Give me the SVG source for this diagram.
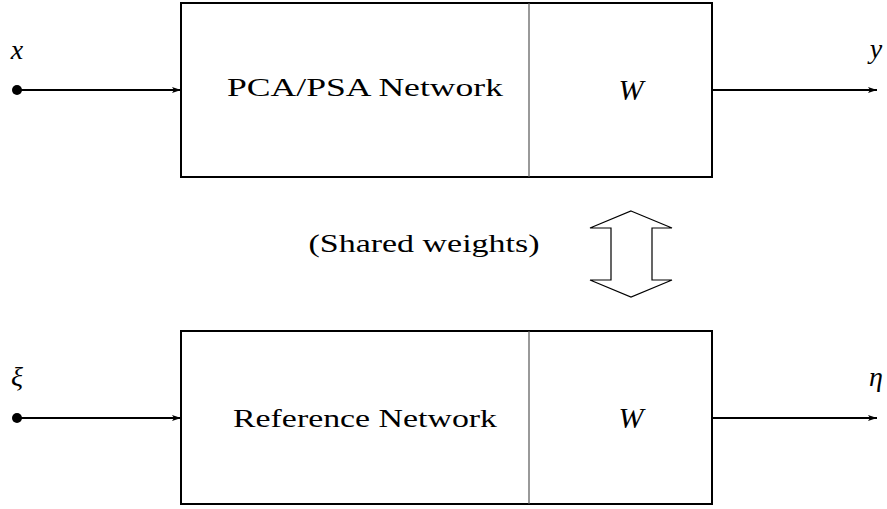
<svg xmlns="http://www.w3.org/2000/svg" width="887" height="509" viewBox="0 0 887 509">
<defs>
<marker id="ah" markerWidth="10" markerHeight="8" refX="9" refY="4" orient="auto" markerUnits="userSpaceOnUse">
<path d="M0,1 L9,4 L0,7 L2,4 Z" fill="#000"/>
</marker>
</defs>
<style>
.box{fill:#fff;stroke:#000;stroke-width:2}
.div{stroke:#555;stroke-width:1.2}
.lbl{font-family:"Liberation Serif",serif;font-size:26px;fill:#000}
.math{font-family:"Liberation Serif",serif;font-style:italic;font-size:28px;fill:#000}
.wire{stroke:#000;stroke-width:2;fill:none}
.dbl{fill:#fff;stroke:#000;stroke-width:1.2}
</style>
<rect width="887" height="509" fill="#fff"/>
<g id="top-node">
<rect class="box" x="181" y="3" width="531" height="174"/>
<line class="div" x1="529" y1="3" x2="529" y2="177"/>
<text class="lbl" x="365" y="96" text-anchor="middle" textLength="276" lengthAdjust="spacingAndGlyphs">PCA/PSA Network</text>
<text class="math" x="631" y="100" text-anchor="middle" style="font-size:30px">W</text>
</g>
<g id="bottom-node">
<rect class="box" x="181" y="331" width="531" height="173"/>
<line class="div" x1="529" y1="331" x2="529" y2="504"/>
<text class="lbl" x="365" y="427" text-anchor="middle" textLength="264" lengthAdjust="spacingAndGlyphs">Reference Network</text>
<text class="math" x="631" y="428" text-anchor="middle" style="font-size:30px">W</text>
</g>
<g id="shared">
<text class="lbl" x="424" y="252" text-anchor="middle" textLength="231" lengthAdjust="spacingAndGlyphs">(Shared weights)</text>
<path class="dbl" d="M631,211 L672,228 L652,228 L652,280 L672,280 L631,297 L590,280 L611,280 L611,228 L590,228 Z"/>
</g>
<g id="labels">
<text class="math" x="17" y="59" text-anchor="middle">x</text>
<text class="math" x="876" y="58" text-anchor="middle">y</text>
<text class="math" x="17" y="386" text-anchor="middle">ξ</text>
<text class="math" x="876" y="386" text-anchor="middle">η</text>
</g>
<g id="connectors">
<circle cx="17" cy="90" r="5" fill="#000"/>
<line class="wire" x1="17" y1="90" x2="181" y2="90" marker-end="url(#ah)"/>
<line class="wire" x1="712" y1="90" x2="877" y2="90" marker-end="url(#ah)"/>
<circle cx="17" cy="418" r="5" fill="#000"/>
<line class="wire" x1="17" y1="418" x2="181" y2="418" marker-end="url(#ah)"/>
<line class="wire" x1="712" y1="418" x2="877" y2="418" marker-end="url(#ah)"/>
</g>
</svg>
